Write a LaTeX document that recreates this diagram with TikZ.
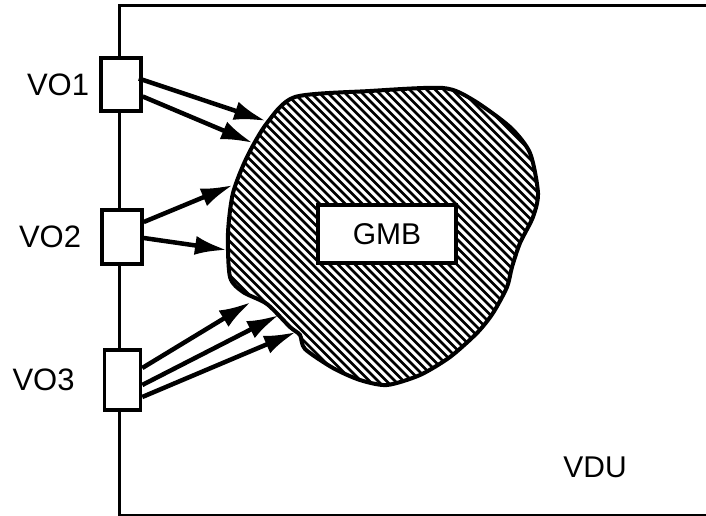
\documentclass[tikz,border=0pt]{standalone}
\usepackage{fontspec}
\setmainfont{Liberation Sans}
\usetikzlibrary{arrows.meta,positioning}

\begin{document}
\begin{tikzpicture}[x=1pt, y=-1pt, >={Latex[length=32pt,width=19pt]},
  port/.style={draw, line width=3.5pt, fill=white, minimum width=40pt, minimum height=53pt, inner sep=0pt},
  portname/.style={inner sep=0pt, font=\fontsize{31}{36}\selectfont},
  link/.style={->, line width=4.5pt}]
  \useasboundingbox (0,0) rectangle (706,516);

  % Draw the outer frame of the display unit
  \draw[line width=3pt] (706,6) -- (119,6) -- (119,515) -- (706,515);

  % Outline of the hatched memory region
  \path[save path=\gmbpath]
    plot[smooth cycle, tension=0.45] coordinates {
      (295,97) (370,91) (443,88) (473,100) (510,127) (530,153) (538,193)
      (533,217) (520,243) (512,267) (507,287) (493,313) (477,333) (450,357)
      (420,375) (387,385) (360,380) (333,368) (305,349) (300,335) (290,327)
      (267,304) (243,292) (230,277) (228,233) (233,193) (247,157) (267,123)};

  % Hatch the region
  \begin{scope}
    \clip[use path=\gmbpath];
    \foreach \s in {-110,-101.5,...,550}
      \draw[line width=2.6pt] (\s,80) -- ++(320,320);
  \end{scope}
  \draw[line width=4pt, use path=\gmbpath];

  % Draw the ports on the left side
  \node[port] (vo1) at (121,84.5) {};
  \node[port, minimum height=54pt] (vo2) at (122,237) {};
  \node[port, minimum width=36pt, minimum height=60pt] (vo3) at (122.5,380) {};
  \node[portname, left=10pt of vo1] {VO1};
  \node[portname, left=19pt of vo2] {VO2};
  \node[portname, left=28pt of vo3] {VO3};

  % Draw the buffer and the unit label
  \node[draw, line width=3.5pt, fill=white, minimum width=138pt, minimum height=58pt,
        font=\fontsize{30}{36}\selectfont] (gmb) at (387,234) {GMB};
  \node[font=\fontsize{30}{36}\selectfont] (vdu) at (595,467) {VDU};

  % Arrow end points on the edge of the region
  \coordinate (t11) at (266,121);
  \coordinate (t12) at (253,143);
  \coordinate (t21) at (233,185);
  \coordinate (t22) at (227,250);
  \coordinate (t31) at (251,302);
  \coordinate (t32) at (279,315);
  \coordinate (t33) at (296,332);

  % Draw the arrows from the ports
  \draw[link] ([xshift=-4pt,yshift=6pt]vo1.east) -- (t11);
  \draw[link] ([yshift=-12pt]vo1.east) -- (t12);
  \draw[link] ([yshift=15pt]vo2.east) -- (t21);
  \draw[link] ([yshift=-1pt]vo2.east) -- (t22);
  \draw[link] ([yshift=12pt]vo3.east) -- (t31);
  \draw[link] ([yshift=-5pt]vo3.east) -- (t32);
  \draw[link] ([yshift=-17pt]vo3.east) -- (t33);
\end{tikzpicture}
\end{document}
